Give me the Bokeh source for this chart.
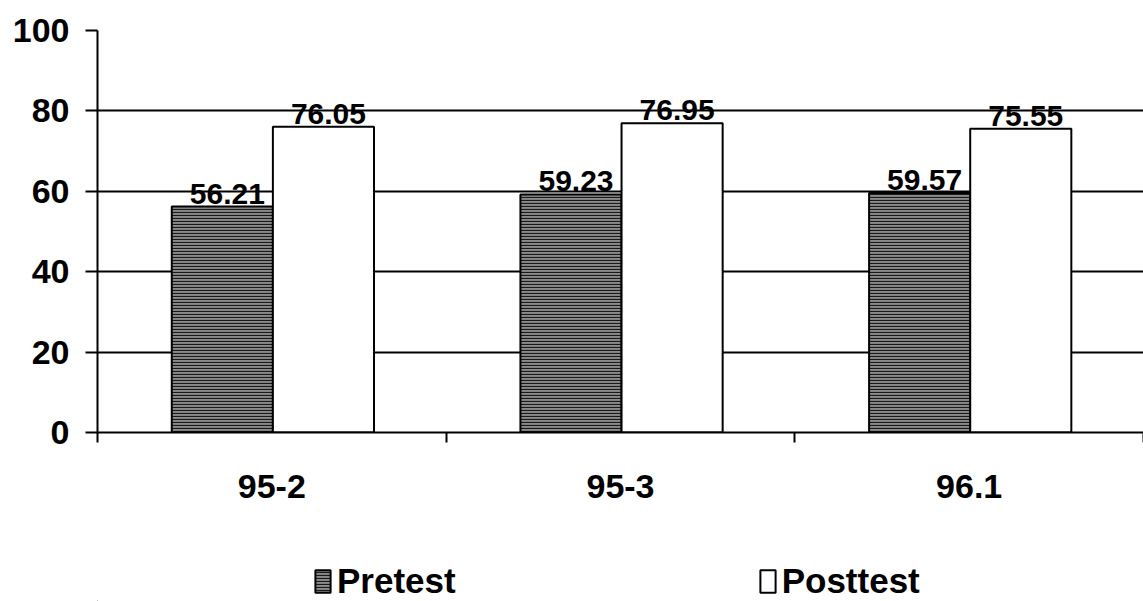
from bokeh.plotting import figure
from bokeh.layouts import column
from bokeh.models import (ColumnDataSource, Range1d, FixedTicker, Legend, LegendItem)
from bokeh.transform import dodge
from bokeh.core.properties import value
from bokeh.embed import file_html
from bokeh.resources import INLINE

# Scores per test session
categories = ["95-2", "95-3", "96.1"]
pretest = [56.21, 59.23, 59.57]
posttest = [76.05, 76.95, 75.55]
y_ticks = [0, 20, 40, 60, 80, 100]
series_names = ["Pretest", "Posttest"]

FONT = "Liberation Sans"
W = 1143

PRE_STYLE = dict(fill_color="#8a8a8a", hatch_pattern="horizontal_line",
                 hatch_color="#1a1a1a", hatch_scale=3, hatch_weight=1.2,
                 line_color="black", line_width=2)
POST_STYLE = dict(fill_color="white", line_color="black", line_width=2)

centers = [i + 0.5 for i in range(len(categories))]
src = ColumnDataSource(dict(
    x=centers,
    cat=categories,
    pre=pretest,
    post=posttest,
    pre_lbl=[f"{v:.2f}" for v in pretest],
    post_lbl=[f"{v:.2f}" for v in posttest],
))

p = figure(width=W, height=530, output_backend="svg", toolbar_location=None,
           x_range=Range1d(0, len(categories)), y_range=Range1d(0, 100),
           min_border_left=97, min_border_right=0, min_border_top=30,
           min_border_bottom=98)
p.outline_line_color = None
p.background_fill_color = "white"
p.border_fill_color = "white"

bar_w = 0.29
pre_x = dodge("x", -0.142, range=p.x_range)
post_x = dodge("x", 0.148, range=p.x_range)
p.vbar(x=pre_x, top="pre", width=bar_w, bottom=0, source=src, **PRE_STYLE)
p.vbar(x=post_x, top="post", width=bar_w, bottom=0, source=src, **POST_STYLE)

# value labels above bars
lbl_kw = dict(text_font=value(FONT), text_font_style="bold", text_font_size="30px",
              text_align="center", text_baseline="bottom", text_color="black",
              x_offset=5, y_offset=-3, source=src)
p.text(x=pre_x, y="pre", text="pre_lbl", **lbl_kw)
p.text(x=post_x, y="post", text="post_lbl", **lbl_kw)

# grid
p.xgrid.grid_line_color = None
p.ygrid.ticker = FixedTicker(ticks=y_ticks)
p.ygrid.grid_line_color = "black"
p.ygrid.grid_line_width = 2

# y axis
ya = p.yaxis[0]
ya.ticker = FixedTicker(ticks=y_ticks)
ya.axis_line_color = "black"
ya.axis_line_width = 2
ya.major_tick_line_color = "black"
ya.major_tick_line_width = 2
ya.major_tick_out = 12
ya.major_tick_in = 0
ya.minor_tick_line_color = None
ya.major_label_standoff = 16
ya.major_label_text_font = FONT
ya.major_label_text_font_style = "bold"
ya.major_label_text_font_size = "34px"
ya.major_label_text_color = "black"

# x axis: labels centred on categories, tick marks on category boundaries
xa = p.xaxis[0]
xa.ticker = FixedTicker(ticks=centers, minor_ticks=list(range(len(categories) + 1)))
xa.major_label_overrides = {c: name for c, name in zip(centers, categories)}
xa.axis_line_color = "black"
xa.axis_line_width = 2
xa.major_tick_line_color = None
xa.major_tick_out = 0
xa.major_tick_in = 0
xa.minor_tick_line_color = "black"
xa.minor_tick_line_width = 2
xa.minor_tick_out = 10
xa.minor_tick_in = 0
xa.major_label_standoff = 32
xa.major_label_text_font = FONT
xa.major_label_text_font_style = "bold"
xa.major_label_text_font_size = "34px"
xa.major_label_text_color = "black"

# legend strip below the chart (its frame lines up with the chart frame)
leg = figure(width=W, height=71, output_backend="svg", toolbar_location=None,
             x_range=Range1d(0, 1), y_range=Range1d(0, 1),
             x_axis_type=None, y_axis_type=None,
             min_border=0)
leg.outline_line_color = None
leg.xgrid.visible = False
leg.ygrid.visible = False
# swatch sources sit outside the visible range; only their legend glyphs show
swatch = ColumnDataSource(dict(x=[-5], top=[0]))
g_pre = leg.vbar(x="x", top="top", width=0.1, source=swatch, **PRE_STYLE)
g_post = leg.vbar(x="x", top="top", width=0.1, source=swatch, **POST_STYLE)

legend = Legend(items=[LegendItem(label=series_names[0], renderers=[g_pre]),
                       LegendItem(label=series_names[1], renderers=[g_post])],
                orientation="horizontal", location=(216, 0),
                glyph_width=19, glyph_height=28, label_standoff=5, spacing=302,
                padding=0, margin=0, border_line_color=None, background_fill_alpha=0,
                label_text_font=FONT, label_text_font_style="bold",
                label_text_font_size="35px", label_text_color="black")
leg.add_layout(legend, "center")

layout = column(p, leg, spacing=0)
open("out.html", "w").write(file_html(layout, INLINE))
